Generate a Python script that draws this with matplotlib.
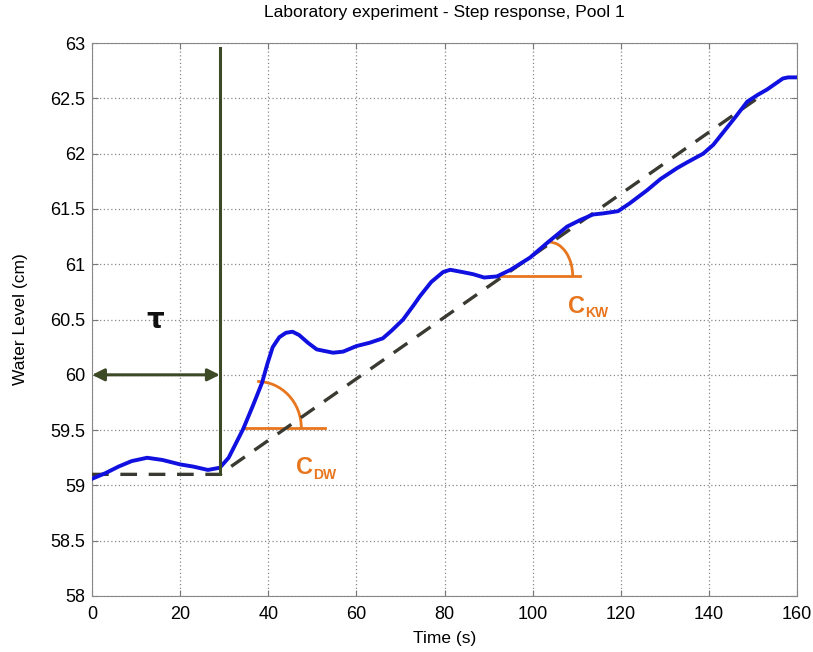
import numpy as np
import matplotlib.pyplot as plt
from matplotlib.patches import Arc

plt.rcParams['font.family'] = ['Liberation Sans', 'DejaVu Sans']

time_s = [0, 3, 6, 9, 12.5, 16, 20, 23, 26.3, 29, 31, 34.3, 36.5, 38.6, 39.8, 41,
          42.5, 44, 45.5, 47, 49, 51, 54.7, 57, 60, 63, 66, 68, 70.6, 73, 74.4, 77,
          79.7, 81.3, 84, 86.5, 89, 91.9, 95, 99.4, 103.5, 107.8, 110.8, 113.7,
          116, 119.4, 122, 126, 129, 132.8, 135, 138.7, 141, 143.2, 146, 148.7,
          151, 153.2, 155, 156.8, 158, 160]
level_cm = [59.06, 59.11, 59.17, 59.22, 59.25, 59.23, 59.19, 59.17, 59.14, 59.16, 59.25,
            59.51, 59.72, 59.93, 60.1, 60.25, 60.34, 60.38, 60.39, 60.36, 60.29,
            60.23, 60.2, 60.21, 60.26, 60.29, 60.33, 60.4, 60.5, 60.63, 60.71,
            60.84, 60.93, 60.95, 60.93, 60.91, 60.88, 60.89, 60.95, 61.06, 61.2,
            61.34, 61.4, 61.45, 61.46, 61.48, 61.55, 61.67, 61.77, 61.87, 61.92,
            62.0, 62.08, 62.19, 62.33, 62.47, 62.53, 62.58, 62.63, 62.68, 62.69,
            62.69]

# first-order-with-delay approximation (dashed)
approx_t = [0, 29, 151]
approx_y = [59.1, 59.1, 62.5]

delay_s = 29
arrow_level = 60.0

olive = '#3d4a26'
orange = '#e8761e'

fig = plt.figure(figsize=(8.13, 6.52), dpi=100)
ax = fig.add_axes([0.1132, 0.0859, 0.8671, 0.848])

ax.plot(time_s, level_cm, color='#1010e0', lw=2.8, zorder=4)
ax.plot(approx_t, approx_y, color='#3a3a32', lw=2.4, dashes=(5, 3.5), zorder=3)

# dead time marker
ax.plot([delay_s, delay_s], [approx_y[1], 62.96], color=olive, lw=2.2, zorder=5)
ax.annotate('', xy=(delay_s, arrow_level), xytext=(0, arrow_level),
            arrowprops=dict(arrowstyle='<|-|>', color=olive, lw=2.2,
                            mutation_scale=18, shrinkA=0, shrinkB=0), zorder=5)
ax.text(14.3, 60.5, 'τ', fontsize=20, fontweight='bold', color='#111111',
        ha='center', va='center', family=['DejaVu Sans'])

# slope angles
ax.plot([34.3, 52.9], [59.52, 59.52], color=orange, lw=2, zorder=2)
ax.add_patch(Arc((37.5, 59.52), 2 * 10.0, 2 * 0.42, theta1=0, theta2=92,
                 color=orange, lw=2, zorder=2))
ax.text(46.3, 59.16, 'C', color=orange, fontsize=17, fontweight='bold',
        ha='left', va='center')
ax.text(50.1, 59.09, 'DW', color=orange, fontsize=10, fontweight='bold',
        ha='left', va='center')

ax.plot([92.1, 110.8], [60.89, 60.89], color=orange, lw=2, zorder=2)
ax.add_patch(Arc((103.8, 60.89), 2 * 5.3, 2 * 0.31, theta1=0, theta2=92,
                 color=orange, lw=2, zorder=2))
ax.text(108.0, 60.62, 'C', color=orange, fontsize=17, fontweight='bold',
        ha='left', va='center')
ax.text(111.9, 60.56, 'KW', color=orange, fontsize=10, fontweight='bold',
        ha='left', va='center')

ax.set_xlim(0, 160)
ax.set_ylim(58, 63)
ax.set_xticks(np.arange(0, 161, 20))
ax.set_yticks(np.arange(58, 63.01, 0.5))
ax.set_yticklabels(['58', '58.5', '59', '59.5', '60', '60.5', '61', '61.5', '62',
                    '62.5', '63'])
ax.grid(True, color='#888888', ls=(0, (1, 2)), lw=0.9)
ax.tick_params(direction='in', length=4, labelsize=13, color='#777777', pad=5,
               top=True, right=True)
ax.tick_params(axis='x', pad=7)
for s in ax.spines.values():
    s.set_color('#888888')

ax.set_xlabel('Time (s)', fontsize=12.5, labelpad=6)
ax.set_ylabel('Water Level (cm)', fontsize=12.5, labelpad=16)
ax.set_title('Laboratory experiment - Step response, Pool 1', fontsize=12.5, pad=19)

fig.savefig('out.png', dpi=100)
